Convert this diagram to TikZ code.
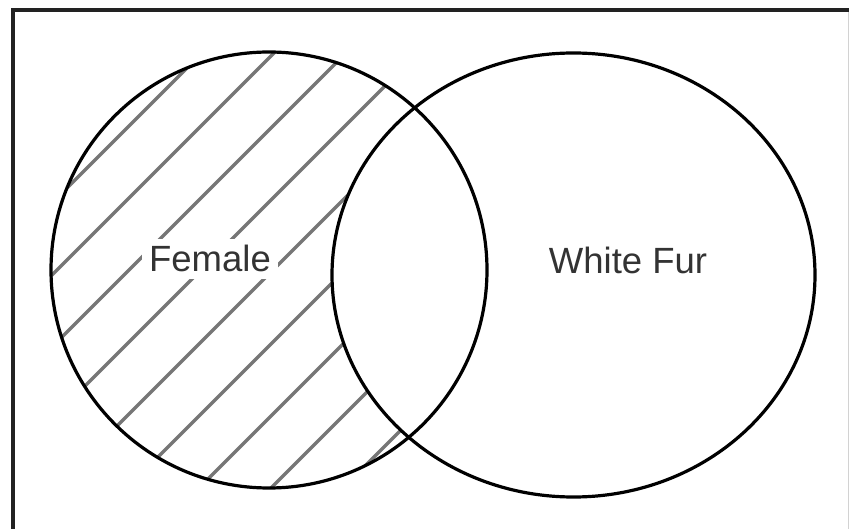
\documentclass[tikz,border=0pt]{standalone}
\usepackage{fontspec}
\setmainfont{Liberation Sans}
\usetikzlibrary{shapes.geometric}
\definecolor{txt}{HTML}{333333}
\definecolor{hatch}{HTML}{767676}
\definecolor{frame}{HTML}{222222}
\begin{document}
\begin{tikzpicture}[x=1pt,y=-1pt,
  setline/.style={draw=black, line width=3.2pt, fill=none, inner sep=0pt, outer sep=0pt},
  label/.style={text=txt, font=\fontsize{36.5}{43}\selectfont, inner sep=7pt},
  hatchline/.style={draw=hatch, line width=3.5pt}]
\useasboundingbox (0,0) rectangle (849,529);
\fill[white] (0,0) rectangle (849,529);
% frame
\draw[frame, line width=4pt] (11,10.5) -- (849,10.5);
\draw[frame, line width=3.5pt] (13,8.5) -- (13,529);
\draw[gray!35, line width=1pt] (848,12) -- (848,529);
% hatching in left-only region
\begin{scope}
  \clip (269,270) circle [radius=218pt];
  \foreach \k in {0,...,8} {
    \pgfmathsetmacro{\c}{255+72*\k}
    \draw[hatchline] (\c+400,-400) -- (\c-700,700);
  }
\end{scope}
\fill[white] (573.5,275) ellipse [x radius=241.5pt, y radius=222pt];
% sets
\node[setline, circle, minimum size=436pt] (female) at (269,270) {};
\node[setline, ellipse, minimum width=483pt, minimum height=444pt] (whitefur) at (573.5,275) {};
% labels
\node[label, fill=white, anchor=base] (femalelabel) at (210,272) {Female};
\node[label, anchor=base] (whitefurlabel) at (628,274) {White Fur};
\end{tikzpicture}
\end{document}
